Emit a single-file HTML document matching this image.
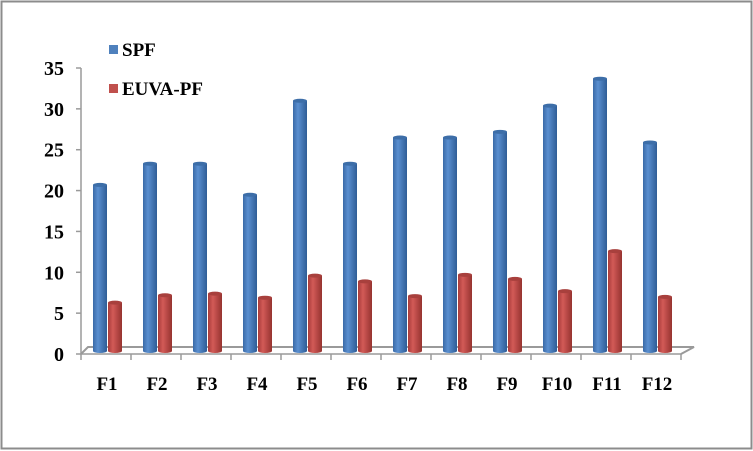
<!DOCTYPE html>
<html><head><meta charset="utf-8"><style>
html,body{margin:0;padding:0;background:#fff;}
svg{display:block;font-family:"Liberation Serif",serif;font-weight:bold;}
</style></head><body>
<svg width="753" height="451">
<defs>
<linearGradient id="gb" x1="0" x2="1"><stop offset="0" stop-color="#3a6aa8"/><stop offset="0.35" stop-color="#5a8fd0"/><stop offset="1" stop-color="#2f5d96"/></linearGradient>
<linearGradient id="gr" x1="0" x2="1"><stop offset="0" stop-color="#a83c3a"/><stop offset="0.35" stop-color="#d25a57"/><stop offset="1" stop-color="#963330"/></linearGradient>
</defs>
<rect x="1.5" y="1.5" width="750" height="447" fill="#fff" stroke="#8c8c8c" stroke-width="2"/>
<g id="axes"></g>
<g id="bars"></g>
<g>
<rect x="109" y="45" width="9" height="9" fill="#4f81bd"/>
<text x="122" y="56" font-size="19">SPF</text>
<rect x="109" y="84" width="9" height="9" fill="#c0504d"/>
<text x="122" y="95" font-size="19">EUVA-PF</text>
</g>
</svg>
<script>
const categories=["F1","F2","F3","F4","F5","F6","F7","F8","F9","F10","F11","F12"];
const spf=[20.2,22.8,22.8,19,30.5,22.8,26,26,26.7,29.9,33.2,25.4];
const euva=[5.8,6.7,6.9,6.4,9.1,8.4,6.6,9.2,8.7,7.2,12.1,6.5];
const yTicks=[0,5,10,15,20,25,30,35];
const NS="http://www.w3.org/2000/svg";
const y0=354,sc=(354-68)/35,x0=81,cw=50;
const yA=v=>y0-v*sc;
const yB=v=>350-v*sc;
function mk(t,a,p){const e=document.createElementNS(NS,t);for(const k in a)e.setAttribute(k,a[k]);p.appendChild(e);return e;}
const ax=document.getElementById('axes');
let floor=mk('path',{d:`M${x0} ${y0} L${x0+7} ${y0-7} L${x0+12*cw+13} ${y0-7} L${x0+12*cw} ${y0}`,fill:'none',stroke:'#9a9a9a','stroke-width':2},ax);

let ya=mk('line',{x1:x0,y1:yA(35),x2:x0,y2:y0,stroke:'#9a9a9a','stroke-width':1.5},ax);

let xa=mk('line',{x1:x0,y1:y0,x2:x0+12*cw,y2:y0,stroke:'#9a9a9a','stroke-width':1.5},ax);

yTicks.forEach(v=>{
 let l=mk('line',{x1:x0-5,y1:yA(v),x2:x0,y2:yA(v),stroke:'#9a9a9a','stroke-width':1.5},ax);
 
 let t=mk('text',{x:64,y:yA(v)+7,'text-anchor':'end','font-size':20},ax);t.textContent=v;
 
});
for(let i=0;i<=12;i++){let l=mk('line',{x1:x0+i*cw,y1:y0,x2:x0+i*cw,y2:y0+6,stroke:'#9a9a9a','stroke-width':1.5},ax);
 }
const bg=document.getElementById('bars');
function cyl(cx,v,fill,top,name){
 const g=mk('g',{},bg);
 
 const w=14,yt=yB(v),yb=351;
 mk('path',{d:`M${cx-w/2} ${yt} L${cx-w/2} ${yb} A${w/2} 2 0 0 0 ${cx+w/2} ${yb} L${cx+w/2} ${yt} Z`,fill:fill},g);
 mk('ellipse',{cx:cx,cy:yt,rx:w/2,ry:2,fill:top},g);
}
categories.forEach((c,i)=>{
 const cx=x0+i*cw+cw/2;
 cyl(cx-6,spf[i],'url(#gb)','#3d6ea8','bar-spf-'+c.toLowerCase());
 cyl(cx+9,euva[i],'url(#gr)','#a8403d','bar-euva-'+c.toLowerCase());
 let t=mk('text',{x:cx+1,y:390,'text-anchor':'middle','font-size':19},ax);t.textContent=c;
 
});
</script>
</body></html>
